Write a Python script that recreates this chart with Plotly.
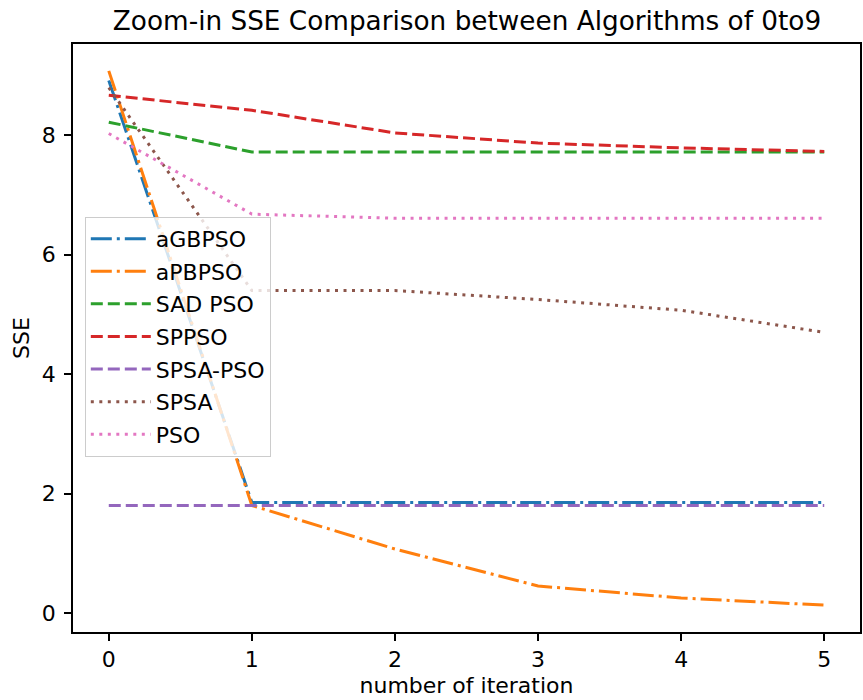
import plotly.graph_objects as go

iterations = [0, 1, 2, 3, 4, 5]
aGBPSO = [8.92, 1.85, 1.85, 1.85, 1.85, 1.85]
aPBPSO = [9.08, 1.80, 1.07, 0.45, 0.25, 0.13]
SAD_PSO = [8.22, 7.72, 7.72, 7.72, 7.72, 7.72]
SPPSO = [8.67, 8.42, 8.04, 7.87, 7.79, 7.73]
SPSA_PSO = [1.80, 1.80, 1.80, 1.80, 1.80, 1.80]
SPSA = [8.80, 5.40, 5.40, 5.25, 5.07, 4.70]
PSO = [8.03, 6.68, 6.61, 6.61, 6.61, 6.61]

DASHDOT = "21px,5px,3px,5px"
DASHED = "12px,5px"
DOTTED = "3px,5.5px"
series = [
    ("aGBPSO", aGBPSO, "#1f77b4", DASHDOT),
    ("aPBPSO", aPBPSO, "#ff7f0e", DASHDOT),
    ("SAD PSO", SAD_PSO, "#2ca02c", DASHED),
    ("SPPSO", SPPSO, "#d62728", DASHED),
    ("SPSA-PSO", SPSA_PSO, "#9467bd", DASHED),
    ("SPSA", SPSA, "#8c564b", DOTTED),
    ("PSO", PSO, "#e377c2", DOTTED),
]

fig = go.Figure()
for i, (name, vals, color, dash) in enumerate(series):
    fig.add_trace(go.Scatter(
        x=iterations, y=vals, mode="lines", name=name,
        legendgroup=f"g{i}",
        line=dict(color=color, width=3, dash=dash),
    ))

font = "DejaVu Sans"
W, H = 863, 700
fig.update_layout(
    template="none",
    width=W, height=H,
    margin=dict(l=73, r=3, t=44, b=68, pad=0),
    paper_bgcolor="white", plot_bgcolor="white",
    font=dict(family=font, size=22, color="black"),
    title=dict(text="Zoom-in SSE Comparison between Algorithms of 0to9",
               x=467 / W, xanchor="center",
               y=1 - 21 / H, yanchor="middle",
               font=dict(family=font, size=26.3, color="black")),
    showlegend=True,
    legend=dict(x=0.015, y=0.706, xanchor="left", yanchor="top",
                bgcolor="rgba(255,255,255,0.8)", bordercolor="#cccccc",
                borderwidth=1, font=dict(family=font, size=22),
                tracegroupgap=1, itemwidth=60),
)
fig.update_xaxes(
    automargin=False,
    range=[-0.25, 5.25], tickvals=iterations, ticktext=[str(v) for v in iterations],
    showgrid=False, zeroline=False, showline=True, linecolor="black", linewidth=1.6,
    mirror=True, ticks="outside", ticklen=7, tickcolor="black", tickwidth=1.6,
    tickfont=dict(size=22),
    title=dict(text="number of iteration", standoff=6, font=dict(size=22)),
)
fig.update_yaxes(
    automargin=False,
    range=[-0.32, 9.53], tickvals=[0, 2, 4, 6, 8],
    showgrid=False, zeroline=False, showline=True, linecolor="black", linewidth=1.6,
    mirror=True, ticks="outside", ticklen=7, tickcolor="black", tickwidth=1.6,
    tickfont=dict(size=22), ticklabelstandoff=4,
    title=dict(text="SSE", standoff=6, font=dict(size=22)),
)
fig.write_html("out.html",
               config={"displayModeBar": False},
               post_script="document.body.style.margin='0';document.body.style.overflow='hidden';")
